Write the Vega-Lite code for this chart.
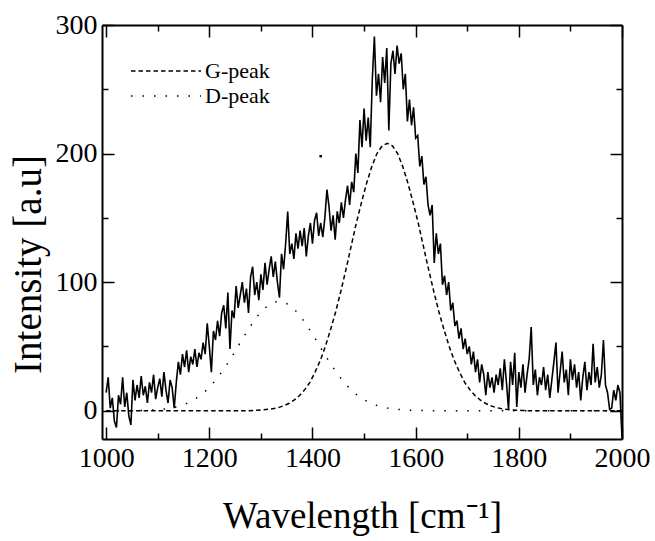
{
  "$schema": "https://vega.github.io/schema/vega-lite/v6.json",
  "autosize": {"type": "none"},
  "padding": {"left": 102, "top": 25, "right": 33, "bottom": 102},
  "width": 520,
  "height": 414,
  "background": "white",
  "config": {
    "view": {"stroke": null},
    "axis": {
      "grid": false,
      "domainColor": "black",
      "domainWidth": 2,
      "tickColor": "black",
      "tickWidth": 1.5,
      "labelColor": "black",
      "labelFont": "Liberation Serif",
      "labelFontSize": 28,
      "labelFlush": false,
      "labelOverlap": false,
      "labelBound": false,
      "titleFont": "Liberation Serif",
      "titleFontWeight": "normal",
      "titleColor": "black"
    }
  },
  "datasets": {
    "spectrum": [
      {"x":1000,"y":14},{"x":1004,"y":26},{"x":1008,"y":2},{"x":1012,"y":10},{"x":1016,"y":-8},{"x":1020,"y":-13},{"x":1024,"y":12},{"x":1028,"y":5},{"x":1032,"y":26},{"x":1036,"y":3},
      {"x":1040,"y":14},{"x":1044,"y":-4},{"x":1048,"y":-11},{"x":1052,"y":24},{"x":1056,"y":8},{"x":1060,"y":20},{"x":1064,"y":10},{"x":1068,"y":27},{"x":1072,"y":12},{"x":1076,"y":19},
      {"x":1080,"y":6},{"x":1084,"y":22},{"x":1088,"y":14},{"x":1092,"y":28},{"x":1096,"y":9},{"x":1100,"y":18},{"x":1104,"y":25},{"x":1108,"y":11},{"x":1112,"y":30},{"x":1116,"y":16},
      {"x":1120,"y":6},{"x":1124,"y":24},{"x":1128,"y":18},{"x":1132,"y":2},{"x":1136,"y":22},{"x":1140,"y":38},{"x":1144,"y":28},{"x":1148,"y":44},{"x":1152,"y":34},{"x":1156,"y":47},
      {"x":1160,"y":30},{"x":1164,"y":42},{"x":1168,"y":36},{"x":1172,"y":48},{"x":1176,"y":34},{"x":1180,"y":45},{"x":1184,"y":40},{"x":1188,"y":53},{"x":1192,"y":44},{"x":1196,"y":68},
      {"x":1200,"y":50},{"x":1204,"y":30},{"x":1208,"y":62},{"x":1212,"y":55},{"x":1216,"y":70},{"x":1220,"y":58},{"x":1224,"y":76},{"x":1228,"y":82},{"x":1232,"y":64},{"x":1236,"y":92},
      {"x":1240,"y":48},{"x":1244,"y":78},{"x":1248,"y":72},{"x":1252,"y":97},{"x":1256,"y":80},{"x":1260,"y":90},{"x":1264,"y":100},{"x":1268,"y":84},{"x":1272,"y":95},{"x":1276,"y":76},
      {"x":1280,"y":104},{"x":1284,"y":112},{"x":1288,"y":90},{"x":1292,"y":100},{"x":1296,"y":86},{"x":1300,"y":106},{"x":1304,"y":94},{"x":1308,"y":115},{"x":1312,"y":98},{"x":1316,"y":110},
      {"x":1320,"y":120},{"x":1324,"y":104},{"x":1328,"y":116},{"x":1332,"y":100},{"x":1336,"y":88},{"x":1340,"y":122},{"x":1344,"y":110},{"x":1348,"y":130},{"x":1352,"y":155},{"x":1356,"y":122},
      {"x":1360,"y":130},{"x":1364,"y":118},{"x":1368,"y":138},{"x":1372,"y":126},{"x":1376,"y":140},{"x":1380,"y":128},{"x":1384,"y":142},{"x":1388,"y":120},{"x":1392,"y":136},{"x":1396,"y":146},
      {"x":1400,"y":130},{"x":1404,"y":148},{"x":1408,"y":154},{"x":1412,"y":136},{"x":1416,"y":146},{"x":1420,"y":135},{"x":1424,"y":150},{"x":1428,"y":172},{"x":1432,"y":159},{"x":1436,"y":140},
      {"x":1440,"y":152},{"x":1444,"y":133},{"x":1448,"y":155},{"x":1452,"y":146},{"x":1456,"y":162},{"x":1460,"y":150},{"x":1464,"y":164},{"x":1468,"y":175},{"x":1472,"y":160},{"x":1476,"y":178},
      {"x":1480,"y":170},{"x":1484,"y":200},{"x":1488,"y":185},{"x":1492,"y":226},{"x":1496,"y":205},{"x":1500,"y":235},{"x":1504,"y":210},{"x":1508,"y":228},{"x":1512,"y":205},{"x":1516,"y":258},
      {"x":1520,"y":291},{"x":1524,"y":245},{"x":1528,"y":262},{"x":1532,"y":240},{"x":1536,"y":275},{"x":1540,"y":255},{"x":1544,"y":282},{"x":1548,"y":218},{"x":1552,"y":270},{"x":1556,"y":280},
      {"x":1560,"y":262},{"x":1564,"y":284},{"x":1568,"y":270},{"x":1572,"y":278},{"x":1576,"y":250},{"x":1580,"y":262},{"x":1584,"y":225},{"x":1588,"y":242},{"x":1592,"y":222},{"x":1596,"y":236},
      {"x":1600,"y":212},{"x":1604,"y":214},{"x":1608,"y":190},{"x":1612,"y":198},{"x":1616,"y":176},{"x":1620,"y":182},{"x":1624,"y":160},{"x":1628,"y":152},{"x":1632,"y":160},{"x":1636,"y":115},
      {"x":1640,"y":138},{"x":1644,"y":122},{"x":1648,"y":130},{"x":1652,"y":98},{"x":1656,"y":105},{"x":1660,"y":90},{"x":1664,"y":100},{"x":1668,"y":78},{"x":1672,"y":84},{"x":1676,"y":66},
      {"x":1680,"y":70},{"x":1684,"y":56},{"x":1688,"y":64},{"x":1692,"y":48},{"x":1696,"y":56},{"x":1700,"y":44},{"x":1704,"y":50},{"x":1708,"y":36},{"x":1712,"y":46},{"x":1716,"y":30},
      {"x":1720,"y":40},{"x":1724,"y":22},{"x":1728,"y":36},{"x":1732,"y":28},{"x":1736,"y":12},{"x":1740,"y":30},{"x":1744,"y":18},{"x":1748,"y":26},{"x":1752,"y":14},{"x":1756,"y":28},
      {"x":1760,"y":20},{"x":1764,"y":33},{"x":1768,"y":16},{"x":1772,"y":40},{"x":1776,"y":22},{"x":1780,"y":1},{"x":1784,"y":38},{"x":1788,"y":20},{"x":1792,"y":45},{"x":1796,"y":3},
      {"x":1800,"y":30},{"x":1804,"y":18},{"x":1808,"y":36},{"x":1812,"y":14},{"x":1816,"y":28},{"x":1820,"y":40},{"x":1824,"y":65},{"x":1828,"y":20},{"x":1832,"y":32},{"x":1836,"y":12},
      {"x":1840,"y":26},{"x":1844,"y":20},{"x":1848,"y":34},{"x":1852,"y":16},{"x":1856,"y":28},{"x":1860,"y":10},{"x":1864,"y":24},{"x":1868,"y":38},{"x":1872,"y":53},{"x":1876,"y":14},
      {"x":1880,"y":30},{"x":1884,"y":46},{"x":1888,"y":22},{"x":1892,"y":32},{"x":1896,"y":12},{"x":1900,"y":40},{"x":1904,"y":24},{"x":1908,"y":36},{"x":1912,"y":18},{"x":1916,"y":30},
      {"x":1920,"y":8},{"x":1924,"y":26},{"x":1928,"y":38},{"x":1932,"y":16},{"x":1936,"y":30},{"x":1940,"y":20},{"x":1944,"y":52},{"x":1948,"y":22},{"x":1952,"y":34},{"x":1956,"y":18},
      {"x":1960,"y":28},{"x":1964,"y":55},{"x":1968,"y":20},{"x":1972,"y":14},{"x":1976,"y":1},{"x":1980,"y":2},{"x":1984,"y":16},{"x":1988,"y":8},{"x":1992,"y":20},{"x":1996,"y":14},
      {"x":2000,"y":-21}
    ],
    "fits": [
      {"series":"G-peak","x":1000,"y":0},{"series":"G-peak","x":1275,"y":0},{"series":"G-peak","x":1285,"y":0.25},{"series":"G-peak","x":1295,"y":0.4},{"series":"G-peak","x":1305,"y":0.7},
      {"series":"G-peak","x":1315,"y":1.1},{"series":"G-peak","x":1325,"y":1.7},{"series":"G-peak","x":1335,"y":2.6},{"series":"G-peak","x":1345,"y":3.9},{"series":"G-peak","x":1355,"y":5.8},
      {"series":"G-peak","x":1365,"y":8.4},{"series":"G-peak","x":1375,"y":11.8},{"series":"G-peak","x":1385,"y":16.4},{"series":"G-peak","x":1395,"y":22},{"series":"G-peak","x":1405,"y":30},
      {"series":"G-peak","x":1415,"y":39},{"series":"G-peak","x":1425,"y":50},{"series":"G-peak","x":1435,"y":63},{"series":"G-peak","x":1445,"y":77},{"series":"G-peak","x":1455,"y":93},
      {"series":"G-peak","x":1465,"y":110},{"series":"G-peak","x":1475,"y":128},{"series":"G-peak","x":1485,"y":146},{"series":"G-peak","x":1495,"y":162},{"series":"G-peak","x":1505,"y":177},
      {"series":"G-peak","x":1515,"y":190},{"series":"G-peak","x":1525,"y":200},{"series":"G-peak","x":1535,"y":206},{"series":"G-peak","x":1545,"y":208},{"series":"G-peak","x":1555,"y":206},
      {"series":"G-peak","x":1565,"y":200},{"series":"G-peak","x":1575,"y":190},{"series":"G-peak","x":1585,"y":177},{"series":"G-peak","x":1595,"y":162},{"series":"G-peak","x":1605,"y":146},
      {"series":"G-peak","x":1615,"y":128},{"series":"G-peak","x":1625,"y":110},{"series":"G-peak","x":1635,"y":93},{"series":"G-peak","x":1645,"y":77},{"series":"G-peak","x":1655,"y":63},
      {"series":"G-peak","x":1665,"y":50},{"series":"G-peak","x":1675,"y":39},{"series":"G-peak","x":1685,"y":30},{"series":"G-peak","x":1695,"y":22},{"series":"G-peak","x":1705,"y":16.4},
      {"series":"G-peak","x":1715,"y":11.8},{"series":"G-peak","x":1725,"y":8.4},{"series":"G-peak","x":1735,"y":5.8},{"series":"G-peak","x":1745,"y":3.9},{"series":"G-peak","x":1755,"y":2.6},
      {"series":"G-peak","x":1765,"y":1.7},{"series":"G-peak","x":1775,"y":1.1},{"series":"G-peak","x":1785,"y":0.7},{"series":"G-peak","x":1795,"y":0.4},{"series":"G-peak","x":1805,"y":0.25},
      {"series":"G-peak","x":1815,"y":0},{"series":"G-peak","x":2000,"y":0},
      {"series":"D-peak","x":1000,"y":0},{"series":"D-peak","x":1045,"y":0},{"series":"D-peak","x":1055,"y":0.1},{"series":"D-peak","x":1065,"y":0.2},{"series":"D-peak","x":1075,"y":0.28},
      {"series":"D-peak","x":1085,"y":0.44},{"series":"D-peak","x":1095,"y":0.66},{"series":"D-peak","x":1105,"y":1.0},{"series":"D-peak","x":1115,"y":1.4},{"series":"D-peak","x":1125,"y":2.1},
      {"series":"D-peak","x":1135,"y":2.9},{"series":"D-peak","x":1145,"y":4.0},{"series":"D-peak","x":1155,"y":5.5},{"series":"D-peak","x":1165,"y":7.4},{"series":"D-peak","x":1175,"y":9.8},
      {"series":"D-peak","x":1185,"y":12.7},{"series":"D-peak","x":1195,"y":16.2},{"series":"D-peak","x":1205,"y":20.4},{"series":"D-peak","x":1215,"y":25.2},{"series":"D-peak","x":1225,"y":30.6},
      {"series":"D-peak","x":1235,"y":36.6},{"series":"D-peak","x":1245,"y":42.9},{"series":"D-peak","x":1255,"y":49.6},{"series":"D-peak","x":1265,"y":56.3},{"series":"D-peak","x":1275,"y":62.7},
      {"series":"D-peak","x":1285,"y":68.9},{"series":"D-peak","x":1295,"y":74.3},{"series":"D-peak","x":1305,"y":78.8},{"series":"D-peak","x":1315,"y":82.2},{"series":"D-peak","x":1325,"y":84.3},
      {"series":"D-peak","x":1335,"y":85},{"series":"D-peak","x":1345,"y":84.3},{"series":"D-peak","x":1355,"y":82.2},{"series":"D-peak","x":1365,"y":78.8},{"series":"D-peak","x":1375,"y":74.3},
      {"series":"D-peak","x":1385,"y":68.9},{"series":"D-peak","x":1395,"y":62.7},{"series":"D-peak","x":1405,"y":56.3},{"series":"D-peak","x":1415,"y":49.6},{"series":"D-peak","x":1425,"y":42.9},
      {"series":"D-peak","x":1435,"y":36.6},{"series":"D-peak","x":1445,"y":30.6},{"series":"D-peak","x":1455,"y":25.2},{"series":"D-peak","x":1465,"y":20.4},{"series":"D-peak","x":1475,"y":16.2},
      {"series":"D-peak","x":1485,"y":12.7},{"series":"D-peak","x":1495,"y":9.8},{"series":"D-peak","x":1505,"y":7.4},{"series":"D-peak","x":1515,"y":5.5},{"series":"D-peak","x":1525,"y":4.0},
      {"series":"D-peak","x":1535,"y":2.9},{"series":"D-peak","x":1545,"y":2.1},{"series":"D-peak","x":1555,"y":1.4},{"series":"D-peak","x":1565,"y":1.0},{"series":"D-peak","x":1575,"y":0.66},
      {"series":"D-peak","x":1585,"y":0.44},{"series":"D-peak","x":1595,"y":0.28},{"series":"D-peak","x":1605,"y":0.2},{"series":"D-peak","x":1615,"y":0.1},{"series":"D-peak","x":1625,"y":0},
      {"series":"D-peak","x":2000,"y":0}
    ],
    "stray": [{"x":1416,"y":198}]
  },
  "resolve": {"axis": {"x": "independent", "y": "independent"}},
  "layer": [
    {
      "data": {"name": "fits"},
      "mark": {"type": "line", "color": "black", "strokeWidth": 1.5, "clip": true},
      "encoding": {
        "x": {"field": "x", "type": "quantitative", "scale": {"domain": [992, 2000], "nice": false, "zero": false},
              "axis": {"orient": "top", "values": [1000,1200,1400,1600,1800,2000], "labels": false, "tickSize": -12, "title": null}},
        "y": {"field": "y", "type": "quantitative", "scale": {"domain": [-22, 300], "nice": false, "zero": false},
              "axis": {"orient": "right", "values": [0,100,200,300], "labels": false, "tickSize": -12, "title": null}},
        "strokeDash": {"field": "series", "type": "nominal",
          "scale": {"domain": ["G-peak", "D-peak"], "range": [[4.5, 3], [1.5, 10]]},
          "legend": {"title": null, "orient": "none", "legendX": 28, "legendY": 35, "padding": 0,
                     "symbolType": "stroke", "symbolSize": 4900, "symbolStrokeColor": "black", "symbolStrokeWidth": 1.5,
                     "labelFont": "Liberation Serif", "labelFontSize": 22, "labelColor": "black", "labelOffset": 3, "rowPadding": 3,
                     "encode": {"symbols": {"update": {"y": {"value": 11}}}, "labels": {"update": {"y": {"value": 11}}}}}}
      }
    },
    {
      "data": {"name": "spectrum"},
      "mark": {"type": "line", "color": "black", "strokeWidth": 1.6, "clip": true},
      "encoding": {
        "x": {"field": "x", "type": "quantitative",
              "axis": {"orient": "bottom", "values": [1000,1200,1400,1600,1800,2000], "format": "d", "tickSize": -12, "labelPadding": 17,
                       "title": "Wavelength [cm⁻¹]", "titleFontSize": 37, "titleBaseline": "alphabetic", "titleY": 88}},
        "y": {"field": "y", "type": "quantitative",
              "axis": {"orient": "left", "values": [0,100,200,300], "format": "d", "tickSize": -12, "labelPadding": 17,
                       "title": "Intensity [a.u]", "titleFontSize": 39, "titleAngle": -90, "titleBaseline": "alphabetic",
                       "titleX": -62, "titleY": 239, "titleAlign": "center"}}
      }
    },
    {
      "data": {"name": "stray"},
      "mark": {"type": "point", "shape": "square", "filled": true, "color": "black", "size": 5, "opacity": 1},
      "encoding": {
        "x": {"field": "x", "type": "quantitative",
              "axis": {"orient": "bottom", "values": [1100,1300,1500,1700,1900], "tickSize": -6, "labels": false, "domain": false, "title": null}},
        "y": {"field": "y", "type": "quantitative",
              "axis": {"orient": "left", "values": [50,150,250], "tickSize": -6, "labels": false, "domain": false, "title": null}}
      }
    },
    {
      "data": {"name": "stray"},
      "mark": {"type": "point", "shape": "square", "filled": true, "color": "black", "size": 5, "opacity": 1},
      "encoding": {
        "x": {"field": "x", "type": "quantitative",
              "axis": {"orient": "top", "values": [1100,1300,1500,1700,1900], "tickSize": -6, "labels": false, "domain": false, "title": null}},
        "y": {"field": "y", "type": "quantitative",
              "axis": {"orient": "right", "values": [50,150,250], "tickSize": -6, "labels": false, "domain": false, "title": null}}
      }
    }
  ]
}
